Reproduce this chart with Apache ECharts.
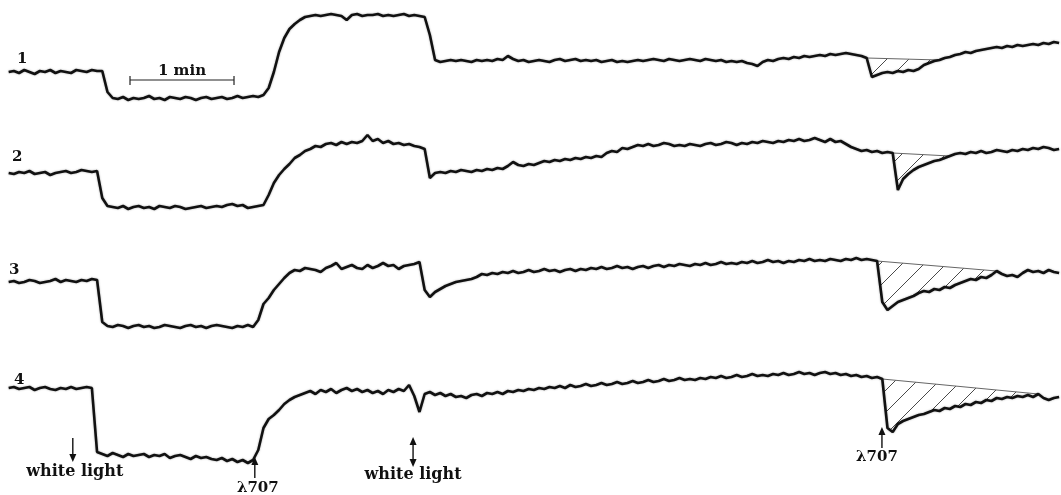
<!DOCTYPE html>
<html>
<head>
<meta charset="utf-8">
<script src="https://cdn.jsdelivr.net/npm/echarts@6/dist/echarts.min.js"></script>
<style>
  html, body { margin: 0; padding: 0; background: #fff; }
  #chart { width: 1061px; height: 495px; }
</style>
</head>
<body>
<div id="chart"></div>
<script>
// Recorder traces: one reading every 3 s, first reading at t = 5 s.
// Values are pen deflection relative to the dark level of each run (up = positive).
const T0 = 5;
const DT = 3;

const trace1 = [
  0, 1, -1, 2, 0, -2, 1, 0, 2, -1,
  1, 0, -1, 2, 1, 0, 2, 1, 1, -20,
  -26, -27, -25, -28, -26, -27, -26, -24, -27, -26,
  -28, -25, -26, -27, -25, -26, -28, -26, -25, -27,
  -26, -25, -27, -26, -24, -26, -25, -24, -25, -23,
  -16, 0, 20, 34, 43, 48, 52, 55, 56, 57,
  56, 57, 58, 57, 56, 52, 57, 58, 56, 57,
  57, 58, 56, 57, 56, 57, 58, 56, 57, 56,
  55, 37, 12, 10, 11, 12, 11, 12, 11, 10,
  12, 11, 12, 11, 13, 12, 16, 13, 11, 12,
  10, 11, 12, 11, 10, 12, 13, 11, 12, 13,
  11, 12, 11, 12, 10, 11, 12, 10, 11, 10,
  11, 12, 11, 12, 13, 12, 11, 13, 12, 11,
  12, 13, 12, 11, 13, 12, 11, 12, 10, 11,
  10, 11, 9, 8, 6, 10, 12, 11, 13, 14,
  13, 15, 14, 16, 15, 16, 17, 16, 18, 17,
  18, 19, 18, 17, 16, 14, -5, -3, -1, 0,
  -1, 1, 0, 2, 1, 3, 7, 9, 11, 12,
  14, 15, 17, 18, 20, 19, 21, 22, 23, 24,
  25, 24, 26, 25, 27, 26, 27, 28, 27, 29,
  28, 30, 29
];

const trace2 = [
  0, -1, 1, 0, 2, -1, 0, 1, -2, 0,
  1, 2, 0, 1, 3, 2, 1, 2, -25, -33,
  -34, -35, -33, -36, -34, -33, -35, -34, -36, -33,
  -34, -35, -33, -34, -36, -35, -34, -33, -35, -34,
  -33, -34, -32, -31, -33, -32, -35, -34, -33, -32,
  -22, -10, -2, 4, 9, 15, 18, 22, 24, 27,
  26, 29, 30, 28, 31, 29, 31, 30, 32, 38,
  32, 34, 30, 32, 29, 30, 28, 29, 27, 26,
  24, -5, 0, 1, 0, 2, 1, 3, 2, 1,
  3, 2, 4, 3, 5, 4, 7, 11, 8, 7,
  9, 8, 10, 12, 11, 13, 12, 14, 13, 15,
  14, 16, 15, 17, 16, 20, 22, 21, 25, 24,
  26, 28, 27, 29, 27, 28, 30, 29, 27, 28,
  27, 29, 28, 27, 29, 30, 28, 29, 31, 30,
  28, 30, 29, 31, 30, 32, 31, 30, 32, 31,
  33, 32, 34, 32, 33, 35, 33, 31, 34, 31,
  32, 29, 26, 24, 22, 23, 21, 22, 20, 21,
  20, -17, -6, -1, 3, 6, 8, 10, 12, 13,
  15, 17, 19, 20, 19, 21, 20, 22, 20, 21,
  23, 22, 21, 23, 22, 24, 23, 25, 24, 26,
  25, 23, 24
];

const trace3 = [
  0, 1, -1, 0, 2, 1, -1, 0, 1, 3,
  0, 2, 1, 0, 2, 1, 3, 2, -40, -44,
  -45, -43, -44, -46, -44, -43, -45, -44, -46, -45,
  -43, -44, -45, -46, -44, -43, -45, -44, -46, -44,
  -43, -44, -45, -46, -44, -45, -43, -45, -38, -22,
  -16, -8, -2, 4, 9, 12, 11, 14, 13, 12,
  10, 14, 16, 19, 13, 15, 17, 14, 13, 17,
  14, 16, 19, 16, 17, 13, 16, 17, 18, 20,
  -8, -15, -10, -7, -4, -2, 0, 1, 2, 3,
  5, 8, 7, 9, 8, 10, 9, 11, 9, 10,
  12, 10, 11, 13, 11, 12, 10, 12, 13, 11,
  13, 12, 14, 13, 15, 13, 14, 16, 14, 15,
  13, 15, 16, 14, 16, 17, 15, 17, 16, 18,
  17, 16, 18, 17, 19, 17, 18, 20, 18, 19,
  18, 20, 19, 21, 19, 20, 22, 20, 21, 19,
  21, 20, 22, 21, 23, 21, 22, 21, 23, 22,
  21, 23, 22, 24, 22, 23, 22, 21, -20, -28,
  -24, -20, -18, -16, -14, -11, -9, -10, -7, -8,
  -5, -6, -3, -1, 1, 3, 2, 5, 4, 7,
  11, 8, 6, 7, 5, 9, 12, 10, 11, 9,
  12, 10, 9
];

const trace4 = [
  0, 1, -1, 0, 1, -2, 0, 1, -1, -2,
  0, -1, 1, -1, 0, 1, 0, -64, -66, -68,
  -65, -67, -69, -66, -68, -67, -66, -69, -67, -68,
  -66, -70, -68, -67, -69, -71, -68, -70, -69, -71,
  -72, -70, -73, -71, -74, -72, -75, -72, -62, -40,
  -31, -27, -22, -16, -12, -9, -7, -5, -3, -6,
  -2, -4, -1, -5, -2, 0, -3, -1, -4, -2,
  -5, -3, -6, -2, -4, -1, -3, 3, -8, -24,
  -6, -4, -7, -5, -8, -6, -9, -8, -10, -7,
  -6, -8, -5, -6, -4, -6, -3, -4, -2, -3,
  -1, -2, 0, -1, 1, 0, 2, 0, 3, 1,
  2, 4, 2, 3, 5, 3, 4, 6, 4, 5,
  7, 5, 6, 8, 6, 7, 9, 7, 8, 10,
  8, 9, 8, 10, 9, 11, 10, 12, 10, 11,
  13, 11, 12, 14, 12, 13, 12, 14, 13, 15,
  13, 14, 16, 14, 15, 13, 15, 16, 14, 15,
  13, 14, 12, 13, 11, 12, 10, 11, 9, -40,
  -44, -36, -33, -31, -29, -27, -26, -24, -22, -23,
  -20, -21, -18, -19, -16, -17, -14, -15, -12, -13,
  -10, -11, -9, -10, -8, -9, -7, -9, -6, -10,
  -12, -10, -9
];

const traces = [trace1, trace2, trace3, trace4];
const traceLabels = ['1', '2', '3', '4'];

// Hatched area after the far-red pulse: first and last sample of the chord.
const hatchFirst = [165, 170, 167, 168];
const hatchLast = [179, 181, 190, 198];

// Stimulus marks (s) and the time scale bar.
const whiteLightOn = 42;
const lambdaOn = 147;
const whiteLightPulse = 238.3;
const lambdaPulse = 508.8;
const scaleBarStart = 75;
const scaleBarLength = 60;
const scaleBarLabel = '1 min';
const whiteLightLabel = 'white light';
const lambdaLabel = 'λ707';

// Axis windows (deflection units) for the four stacked runs.
const yMin = [-38, -52, -58, -82];
const yMax = [72, 58, 52, 43];
const gridTop = [0, 115, 230, 345];
const gridHeight = [110, 110, 110, 125];
const X_MAX = 612.1;

const timeOf = i => T0 + i * DT;

function hatchTile() {
  const s = 22;
  const c = document.createElement('canvas');
  c.width = s; c.height = s;
  const g = c.getContext('2d');
  g.fillStyle = '#fff';
  g.fillRect(0, 0, s, s);
  g.strokeStyle = '#4a4a4a';
  g.lineWidth = 1;
  g.beginPath();
  g.moveTo(0, s); g.lineTo(s, 0);
  g.moveTo(-4, 4); g.lineTo(4, -4);
  g.moveTo(s - 4, s + 4); g.lineTo(s + 4, s - 4);
  g.stroke();
  return c;
}
const hatchFill = { image: hatchTile(), repeat: 'repeat' };

const grids = [], xAxes = [], yAxes = [], series = [];
traces.forEach((tr, k) => {
  grids.push({ left: 0, right: 0, top: gridTop[k], height: gridHeight[k], containLabel: false });
  xAxes.push({ type: 'value', gridIndex: k, min: 0, max: X_MAX, show: false });
  yAxes.push({ type: 'value', gridIndex: k, min: yMin[k], max: yMax[k], show: false });

  const a = hatchFirst[k], b = hatchLast[k];
  series.push({
    type: 'custom',
    xAxisIndex: k, yAxisIndex: k,
    z: 2, silent: true, animation: false,
    data: [[timeOf(a), tr[a]]],
    renderItem: function (params, api) {
      const pts = [];
      for (let i = a; i <= b; i++) pts.push(api.coord([timeOf(i), tr[i]]));
      return {
        type: 'polygon',
        shape: { points: pts },
        style: { fill: hatchFill, stroke: '#666', lineWidth: 1 }
      };
    }
  });

  series.push({
    type: 'line',
    xAxisIndex: k, yAxisIndex: k,
    data: tr.map((v, i) => [timeOf(i), v]),
    showSymbol: false, symbol: 'none',
    lineStyle: { color: '#111', width: 2.6, shadowBlur: 2, shadowColor: 'rgba(0,0,0,0.35)' },
    z: 3, silent: true, animation: false
  });
});

const chart = echarts.init(document.getElementById('chart'));
chart.setOption({
  backgroundColor: '#fff',
  animation: false,
  grid: grids,
  xAxis: xAxes,
  yAxis: yAxes,
  series: series
});

// Annotations
const FONT = 'bold 15px "DejaVu Serif"';
const FONT_WIDE = 'bold 16px "DejaVu Serif"';
const px = t => chart.convertToPixel({ xAxisIndex: 0 }, t);

function label(text, x, y, align, font) {
  return {
    type: 'text', z: 10, silent: true,
    style: { text: text, x: x, y: y, font: font || FONT, fill: '#111', align: align || 'center', verticalAlign: 'middle' }
  };
}
function head(x, yTip, dir) {
  // dir = 1 points down, -1 points up
  return {
    type: 'polygon', z: 10, silent: true,
    shape: { points: [[x, yTip], [x - 3.5, yTip - dir * 8], [x + 3.5, yTip - dir * 8]] },
    style: { fill: '#111' }
  };
}
function shaft(x, y1, y2) {
  return { type: 'line', z: 10, silent: true, shape: { x1: x, y1: y1, x2: x, y2: y2 }, style: { stroke: '#111', lineWidth: 1.4 } };
}

const xs0 = px(scaleBarStart), xs1 = px(scaleBarStart + scaleBarLength);
const xw = px(whiteLightOn), xl = px(lambdaOn), xp = px(whiteLightPulse), xq = px(lambdaPulse);

const graphics = [
  label(traceLabels[0], 17, 59, 'left'),
  label(traceLabels[1], 12, 157, 'left'),
  label(traceLabels[2], 9, 270, 'left'),
  label(traceLabels[3], 14, 380, 'left'),

  { type: 'line', z: 10, silent: true, shape: { x1: xs0, y1: 80, x2: xs1, y2: 80 }, style: { stroke: '#222', lineWidth: 1.2 } },
  { type: 'line', z: 10, silent: true, shape: { x1: xs0, y1: 76, x2: xs0, y2: 85 }, style: { stroke: '#222', lineWidth: 1.2 } },
  { type: 'line', z: 10, silent: true, shape: { x1: xs1, y1: 76, x2: xs1, y2: 85 }, style: { stroke: '#222', lineWidth: 1.2 } },
  label(scaleBarLabel, (xs0 + xs1) / 2, 71),

  shaft(xw, 438, 456), head(xw, 462, 1),
  label(whiteLightLabel, xw + 2, 472, 'center', FONT_WIDE),

  shaft(xl, 478, 463), head(xl, 457, -1),
  label(lambdaLabel, xl + 3, 488),

  shaft(xp, 443, 461), head(xp, 437, -1), head(xp, 467, 1),
  label(whiteLightLabel, xp, 475, 'center', FONT_WIDE),

  shaft(xq, 448, 433), head(xq, 427, -1),
  label(lambdaLabel, xq - 5, 457)
];
chart.setOption({ graphic: graphics });
</script>
</body>
</html>
